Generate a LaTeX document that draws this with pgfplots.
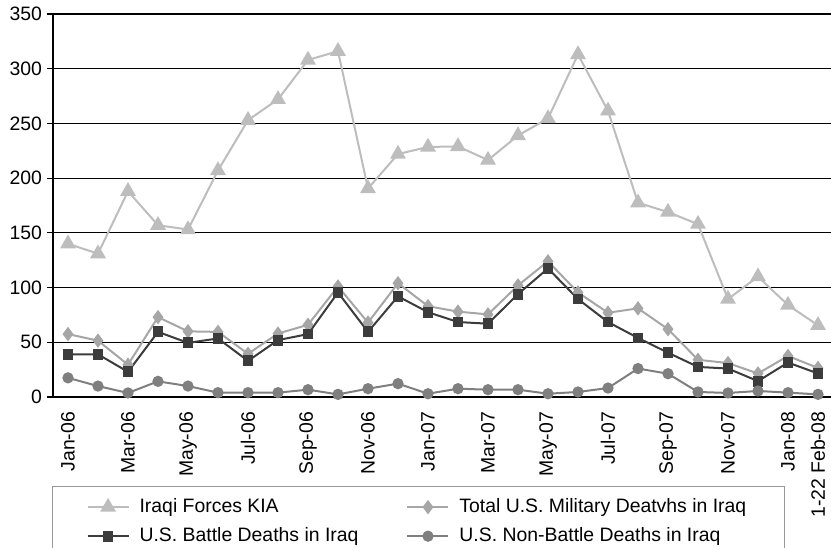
\documentclass[border=0pt]{standalone}
\usepackage{pgfplots}
\usepackage{pgfplotstable}
\pgfplotsset{compat=1.18}
\usepackage{fontspec}
\setmainfont{Liberation Sans}
\definecolor{ckia}{HTML}{BDBDBD}
\definecolor{ctot}{HTML}{A6A6A6}
\definecolor{cbat}{HTML}{3C3C3C}
\definecolor{cnon}{HTML}{7F7F7F}
\pgfplotstableread{
x kia total battle non
0 140 57.5 39 17.5
1 131 51.5 39 10
2 188 29.5 23 3.7
3 157 73 59.5 14.3
4 153 60 49.5 10
5 207 59.5 53.5 4
6 253 39.5 33 4
7 272 58 52 4
8 308 66 57.5 6.7
9 316 101 95.5 2.4
10 190.5 68 59.5 7.6
11 222 104 92 12.2
12 228.5 83 77.5 3
13 229 78 68.5 7.6
14 216.5 75.5 67 6.7
15 239 102 94 6.7
16 254.5 124 117.5 3
17 313 95.5 89.5 4.6
18 261.5 77 68.5 8.2
19 177.5 81 54 26
20 169 62 40.5 21.3
21 158 34 27.5 4.6
22 89.5 31 26 3.7
23 110 21.5 14.5 5.5
24 84 37.5 31.5 4
25 65.5 26.5 21.5 2.4
}\data
\begin{document}
\begin{tikzpicture}
\begin{axis}[
  at={(0,0)}, anchor=south west,
  scale only axis, width=390pt, height=191.5pt,
  xmin=-0.5, xmax=25.5, ymin=0, ymax=350,
  axis x line*=bottom, axis y line*=left,
  axis line style={black, line width=0.7pt},
  xtick={0,2,4,6,8,10,12,14,16,18,20,22,24,25},
  xticklabels={Jan-06,Mar-06,May-06,Jul-06,Sep-06,Nov-06,Jan-07,Mar-07,May-07,Jul-07,Sep-07,Nov-07,Jan-08,1-22 Feb-08},
  xticklabel style={rotate=90, anchor=east},
  x tick style={draw=none},
  xticklabel shift=1pt,
  ytick={0,50,...,350},
  y tick style={black, line width=0.6pt},
  tick align=outside, major tick length=3pt,
  yticklabel shift=-1pt,
  tick label style={font=\fontsize{9.7}{11}\selectfont},
  /pgf/number format/assume math mode=true,
  ymajorgrids, grid style={black, line width=0.6pt},
  clip=false,
  legend columns=2,
  legend cell align=left,
  legend image code/.code={\draw[mark repeat=2,mark phase=2] plot coordinates {(0pt,0pt)(10.25pt,0pt)(20.5pt,0pt)};},
  legend style={at={(axis description cs:0,0)}, anchor=north west, xshift=-0.5pt, yshift=-44.5pt,
    draw=gray!80, line width=0.6pt, font=\fontsize{9.7}{11}\selectfont,
    inner xsep=17pt, inner ysep=4pt, row sep=2pt,
    /tikz/every odd column/.append style={column sep=3pt},
    /tikz/every even column/.append style={column sep=22pt}},
]
\addplot[color=ckia, line width=1pt, mark=triangle*, mark size=3.6pt, mark options={fill=ckia, draw=ckia}] table[x=x,y=kia]{\data};
\addlegendentry{Iraqi Forces KIA}
\addplot[color=ctot, line width=1pt, mark=diamond*, mark size=2.8pt, mark options={fill=ctot, draw=ctot}] table[x=x,y=total]{\data};
\addlegendentry{Total U.S. Military Deatvhs in Iraq}
\addplot[color=cbat, line width=1pt, mark=square*, mark size=2.2pt, mark options={fill=cbat, draw=cbat}] table[x=x,y=battle]{\data};
\addlegendentry{U.S. Battle Deaths in Iraq}
\addplot[color=cnon, line width=1pt, mark=*, mark size=2.3pt, mark options={fill=cnon, draw=cnon}] table[x=x,y=non]{\data};
\addlegendentry{U.S. Non-Battle Deaths in Iraq}
\end{axis}
\pgfresetboundingbox
\path[use as bounding box] (-26.5pt,-75pt) rectangle (389pt,198.5pt);
\end{tikzpicture}
\end{document}
